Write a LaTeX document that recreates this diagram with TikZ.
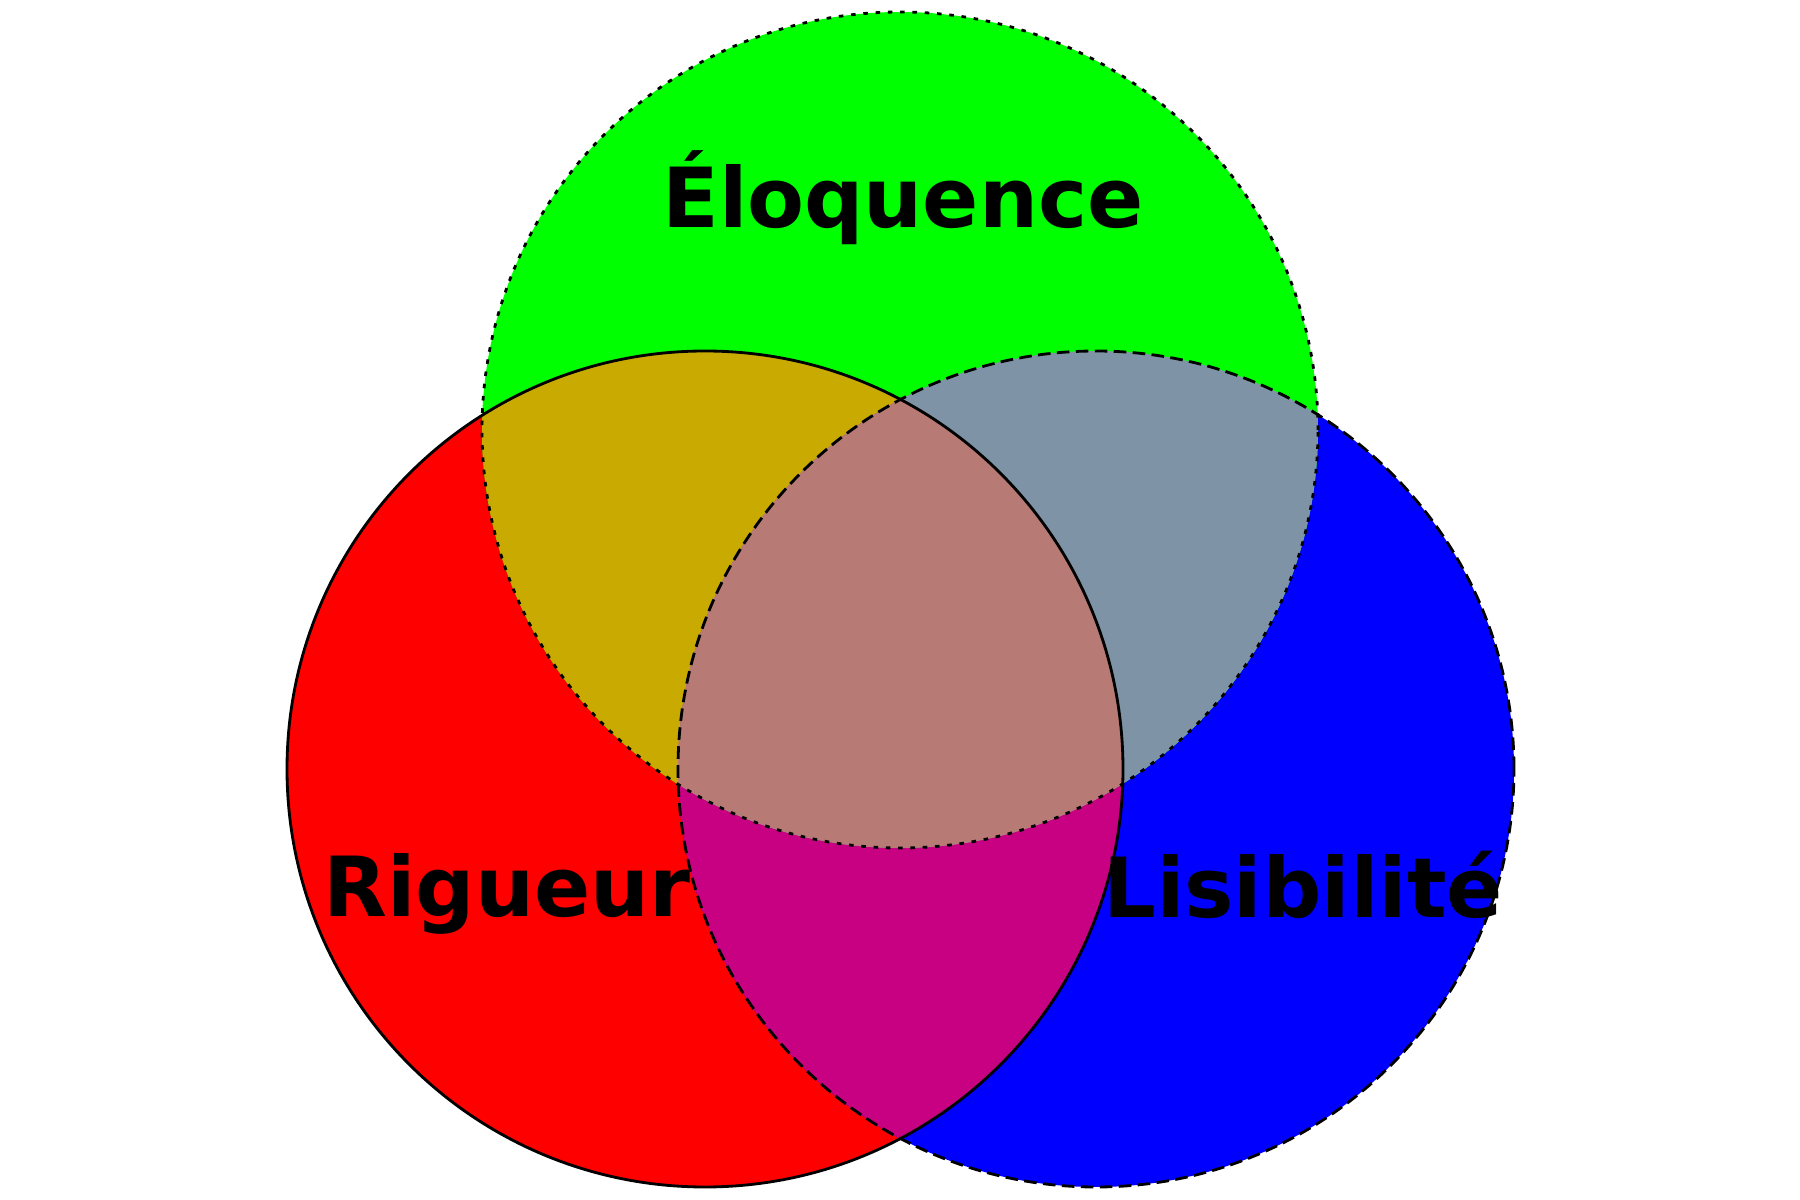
\documentclass[tikz,border=0pt]{standalone}
\usepackage{fontspec}
\setmainfont{DejaVu Sans}
\definecolor{olive}{RGB}{200,170,0}
\definecolor{slate}{RGB}{127,147,166}
\definecolor{plum}{RGB}{200,0,130}
\definecolor{rose}{RGB}{184,122,116}
\tikzset{label/.style={font=\fontsize{23.6}{28}\selectfont\bfseries, anchor=base, inner sep=0pt}}
\begin{document}
\begin{tikzpicture}
\def\rigcircle{(7.05,4.31) circle (4.18cm)}
\def\liscircle{(10.96,4.31) circle (4.18cm)}
\def\elocircle{(9.00,7.70) circle (4.18cm)}
\useasboundingbox (0,0) rectangle (18,12);

\fill[red] \rigcircle;
\fill[blue] \liscircle;
\fill[green] \elocircle;

        \begin{scope}
            \clip \rigcircle;
        \fill[olive] \elocircle;
        \fill[plum] \liscircle;
        \end{scope}
        \begin{scope}
            \clip \liscircle;
        \fill[slate] \elocircle;
        \end{scope}
        \begin{scope}
            \clip \rigcircle;
            \clip \liscircle;
        \fill[rose] \elocircle;
        \end{scope}

\draw[line width=.8pt] \rigcircle;
\draw[line width=.8pt, dash pattern=on 3.6pt off 1.8pt] \liscircle;
\draw[line width=.8pt, dash pattern=on 1.3pt off 2.2pt] \elocircle;

\node[label] (elo) at (9.03,9.72) {Éloquence};
\node[label] (rig) at (5.07,2.83) {Rigueur};
\node[label] (lis) at (13.03,2.82) {Lisibilité};
\end{tikzpicture}
\end{document}
